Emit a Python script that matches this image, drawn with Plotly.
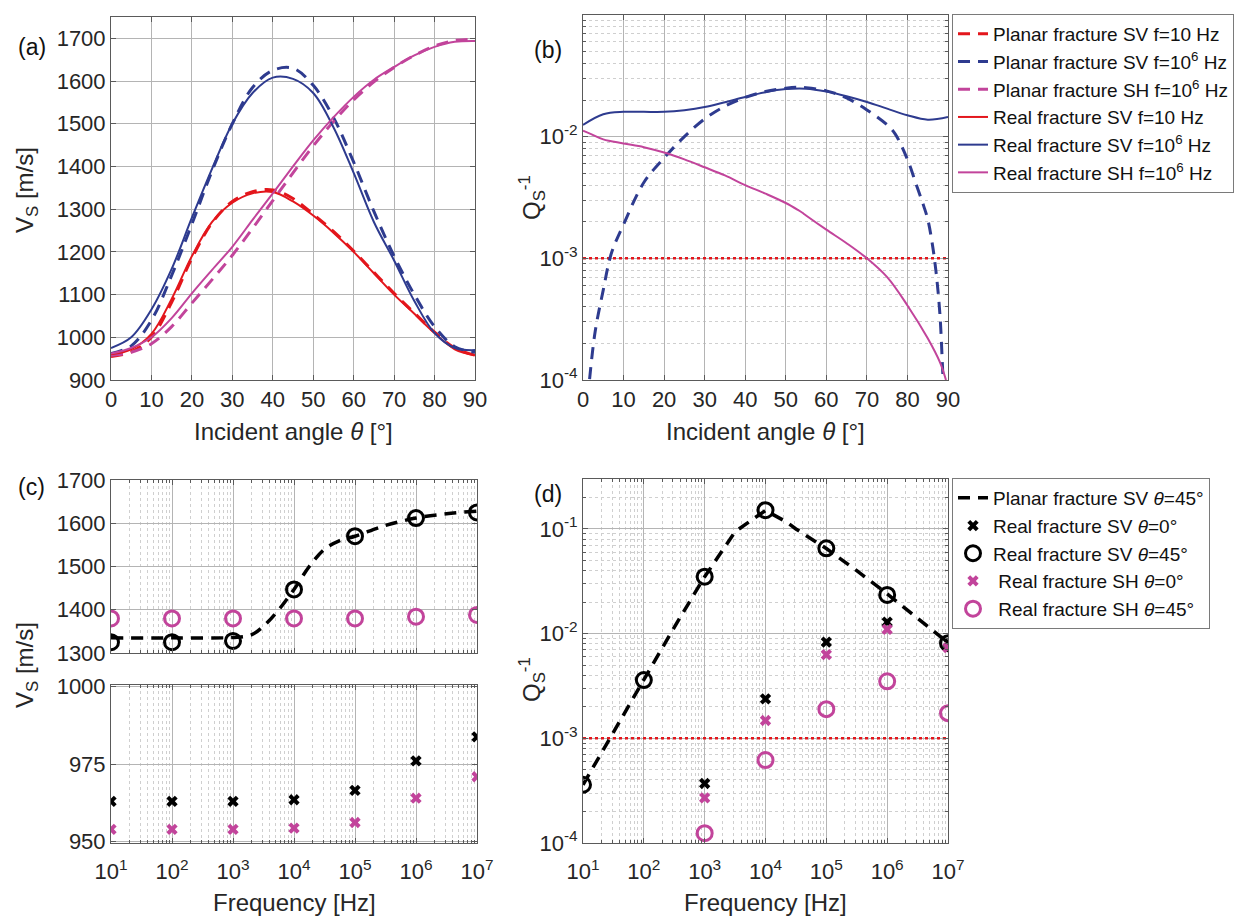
import numpy as np
import plotly.graph_objects as go

W, H = 1258, 917

# ---------------- data ----------------
# (a) shear velocity vs incidence angle
theta = [0, 5, 10, 15, 20, 25, 30, 35, 40, 45, 50, 55, 60, 65, 70, 75, 80, 85, 90]
vs_planar_sv_10 = [955, 966, 1000, 1082, 1185, 1268, 1318, 1341, 1345, 1325, 1288, 1248, 1202, 1152, 1103, 1057, 1012, 975, 958]
vs_planar_sv_1e6 = [962, 980, 1040, 1145, 1265, 1390, 1500, 1585, 1625, 1630, 1590, 1515, 1410, 1295, 1190, 1100, 1025, 978, 965]
vs_planar_sh_1e6 = [958, 965, 985, 1025, 1080, 1135, 1192, 1255, 1320, 1385, 1448, 1505, 1556, 1598, 1632, 1660, 1682, 1695, 1698]
vs_real_sv_10 = [960, 972, 1008, 1090, 1190, 1270, 1315, 1337, 1340, 1318, 1285, 1245, 1200, 1150, 1100, 1055, 1010, 972, 958]
vs_real_sv_1e6 = [975, 1000, 1065, 1160, 1280, 1395, 1500, 1572, 1608, 1605, 1572, 1492, 1385, 1270, 1180, 1085, 1010, 975, 970]
vs_real_sh_1e6 = [962, 975, 1000, 1045, 1103, 1158, 1212, 1275, 1337, 1400, 1461, 1515, 1563, 1603, 1633, 1660, 1680, 1692, 1694]

# (b) attenuation vs incidence angle
theta_q_planar = [1.2, 1.6, 3, 5, 7, 10, 15, 20, 25, 30, 35, 40, 45, 50, 53, 55, 60, 65, 70, 75, 77, 80, 82, 84, 85, 86, 87, 88, 88.8, 89.2]
q_planar_sv_1e6 = [7e-5, 1e-4, 2.5e-4, 5.5e-4, 1.1e-3, 1.9e-3, 4.2e-3, 6.7e-3, 1.0e-2, 0.0140, 0.0178, 0.0210, 0.0235, 0.0250, 0.0255, 0.0253, 0.0238, 0.0208, 0.0166, 0.0125, 0.0105, 6.5e-3, 4.2e-3, 2.7e-3, 2.1e-3, 1.4e-3, 8e-4, 3.5e-4, 1e-4, 6e-5]
theta_q_real = [0, 5, 10, 15, 20, 25, 30, 35, 40, 45, 50, 55, 60, 65, 70, 75, 80, 85, 90]
q_real_sv_1e6 = [0.0125, 0.0153, 0.0160, 0.0160, 0.0160, 0.0165, 0.0175, 0.0192, 0.0212, 0.0232, 0.0246, 0.0248, 0.0235, 0.0215, 0.0193, 0.0170, 0.0150, 0.0138, 0.0145]
theta_q_sh = [0, 2, 5, 10, 15, 20, 25, 30, 35, 40, 45, 50, 53, 54, 55, 60, 65, 70, 75, 80, 85, 88, 89.5]
q_real_sh_1e6 = [0.0112, 0.0105, 9.5e-3, 8.8e-3, 8.2e-3, 7.4e-3, 6.5e-3, 5.6e-3, 4.8e-3, 4.0e-3, 3.4e-3, 2.85e-3, 2.5e-3, 2.38e-3, 2.25e-3, 1.72e-3, 1.33e-3, 1.0e-3, 7e-4, 4.1e-4, 2.2e-4, 1.4e-4, 1e-4]
q_reference = 1e-3

# (c), (d) frequency dependence
freq = [1e1, 1e2, 1e3, 1e4, 1e5, 1e6, 1e7]
vs_sv45 = [1325, 1325, 1328, 1447, 1570, 1612, 1625]
vs_sh45 = [1380, 1380, 1380, 1380, 1380, 1384, 1388]
vs_sv0 = [963, 963, 963, 963.5, 966.5, 976, 983.7]
vs_sh0 = [954, 954, 954, 954.4, 956.2, 964, 970.9]

freq_line_log = [1, 2, 3, 3.3, 3.5, 3.75, 4, 4.25, 4.5, 4.75, 5, 5.5, 6, 6.5, 7]
vs_planar_sv45 = [1335, 1335, 1336, 1342, 1362, 1400, 1447, 1500, 1540, 1560, 1570, 1595, 1612, 1622, 1628]

freq_q_line_log = [1, 1.5, 2, 2.5, 3, 3.5, 3.8, 4, 4.34, 4.5, 5, 5.5, 6, 6.5, 7]
q_planar_sv45 = [3.6e-4, 1.15e-3, 3.6e-3, 1.15e-2, 0.035, 0.094, 0.125, 0.15, 0.117, 0.1, 0.065, 0.04, 0.024, 0.014, 0.0082]

freq_q_sv0 = [1e3, 1e4, 1e5, 1e6, 1e7]
q_sv0 = [3.7e-4, 2.38e-3, 8.3e-3, 0.0129, 8.2e-3]
q_sh0 = [2.7e-4, 1.48e-3, 6.3e-3, 0.011, 7.35e-3]
q_sv45 = [3.6e-4, 3.6e-3, 0.035, 0.151, 0.0653, 0.0234, 0.0081]
q_sh45 = [1.24e-4, 6.2e-4, 1.9e-3, 3.5e-3, 1.74e-3]

# ---------------- style ----------------
RED = "#e3161c"
BLUE = "#2e3b8f"
MAG = "#c2449b"
FONT = "Liberation Sans, Arial, sans-serif"
TXT = "#262626"
GRID = "#b4b4b4"
MINOR = "#cfcfcf"
AXLINE = "#5a5a5a"


def dx(a, b):
    return [a / W, b / W]


def dy(top, bottom):
    return [1 - bottom / H, 1 - top / H]


def sup(n):
    return "10<sup>%d</sup>" % n


def log_minor(lo, hi):
    vals = []
    for e in range(lo, hi):
        for k in range(2, 10):
            vals.append(k * 10.0 ** e)
    return vals


fig = go.Figure()

dash_planar = "12px,8px"

# ---- panel (a)
fig.add_trace(go.Scatter(x=theta, y=vs_planar_sv_10, mode="lines", line=dict(color=RED, width=3, dash=dash_planar, shape="spline"),
                         name="Planar fracture SV f=10 Hz", xaxis="x", yaxis="y", legend="legend"))
fig.add_trace(go.Scatter(x=theta, y=vs_planar_sv_1e6, mode="lines", line=dict(color=BLUE, width=3, dash=dash_planar, shape="spline"),
                         name="Planar fracture SV f=10<sup>6</sup> Hz", xaxis="x", yaxis="y", legend="legend"))
fig.add_trace(go.Scatter(x=theta, y=vs_planar_sh_1e6, mode="lines", line=dict(color=MAG, width=3, dash=dash_planar, shape="spline"),
                         name="Planar fracture SH f=10<sup>6</sup> Hz", xaxis="x", yaxis="y", legend="legend"))
fig.add_trace(go.Scatter(x=theta, y=vs_real_sv_10, mode="lines", line=dict(color=RED, width=2, shape="spline"),
                         name="Real fracture SV f=10 Hz", xaxis="x", yaxis="y", legend="legend"))
fig.add_trace(go.Scatter(x=theta, y=vs_real_sv_1e6, mode="lines", line=dict(color=BLUE, width=2, shape="spline"),
                         name="Real fracture SV f=10<sup>6</sup> Hz", xaxis="x", yaxis="y", legend="legend"))
fig.add_trace(go.Scatter(x=theta, y=vs_real_sh_1e6, mode="lines", line=dict(color=MAG, width=2, shape="spline"),
                         name="Real fracture SH f=10<sup>6</sup> Hz", xaxis="x", yaxis="y", legend="legend"))

# ---- panel (b)
fig.add_trace(go.Scatter(x=[0, 90], y=[q_reference, q_reference], mode="lines", line=dict(color=RED, width=2.5, dash="dot"),
                         showlegend=False, xaxis="x2", yaxis="y2"))
fig.add_trace(go.Scatter(x=theta_q_planar, y=q_planar_sv_1e6, mode="lines", line=dict(color=BLUE, width=3, dash=dash_planar, shape="spline"),
                         showlegend=False, xaxis="x2", yaxis="y2"))
fig.add_trace(go.Scatter(x=theta_q_real, y=q_real_sv_1e6, mode="lines", line=dict(color=BLUE, width=2, shape="spline"),
                         showlegend=False, xaxis="x2", yaxis="y2"))
fig.add_trace(go.Scatter(x=theta_q_sh, y=q_real_sh_1e6, mode="lines", line=dict(color=MAG, width=2, shape="spline"),
                         showlegend=False, xaxis="x2", yaxis="y2"))

# ---- panel (c) top
freq_line = [10.0 ** v for v in freq_line_log]
fig.add_trace(go.Scatter(x=freq_line, y=vs_planar_sv45, mode="lines", line=dict(color="black", width=3.5, dash=dash_planar, shape="spline"),
                         showlegend=False, xaxis="x3", yaxis="y3"))
fig.add_trace(go.Scatter(x=freq, y=vs_sv45, mode="markers", marker=dict(symbol="circle-open", size=15, color="black", line=dict(width=3)),
                         showlegend=False, xaxis="x3", yaxis="y3"))
fig.add_trace(go.Scatter(x=freq, y=vs_sh45, mode="markers", marker=dict(symbol="circle-open", size=15, color=MAG, line=dict(width=3)),
                         showlegend=False, xaxis="x3", yaxis="y3"))
# ---- panel (c) bottom
fig.add_trace(go.Scatter(x=freq, y=vs_sv0, mode="markers", marker=dict(symbol="x", size=10, color="black", line=dict(width=0)),
                         showlegend=False, xaxis="x4", yaxis="y4"))
fig.add_trace(go.Scatter(x=freq, y=vs_sh0, mode="markers", marker=dict(symbol="x", size=10, color=MAG, line=dict(width=0)),
                         showlegend=False, xaxis="x4", yaxis="y4"))

# ---- panel (d)
fig.add_trace(go.Scatter(x=[10, 1e7], y=[q_reference, q_reference], mode="lines", line=dict(color=RED, width=2.5, dash="dot"),
                         showlegend=False, xaxis="x5", yaxis="y5"))
freq_q_line = [10.0 ** v for v in freq_q_line_log]
fig.add_trace(go.Scatter(x=freq_q_line, y=q_planar_sv45, mode="lines", line=dict(color="black", width=3.5, dash=dash_planar),
                         name="Planar fracture SV <i>θ</i>=45°", xaxis="x5", yaxis="y5", legend="legend2"))
fig.add_trace(go.Scatter(x=freq_q_sv0, y=q_sv0, mode="markers", marker=dict(symbol="x", size=10, color="black", line=dict(width=0)),
                         name="Real fracture SV <i>θ</i>=0°", xaxis="x5", yaxis="y5", legend="legend2"))
fig.add_trace(go.Scatter(x=freq, y=q_sv45, mode="markers", marker=dict(symbol="circle-open", size=15, color="black", line=dict(width=3)),
                         name="Real fracture SV <i>θ</i>=45°", xaxis="x5", yaxis="y5", legend="legend2"))
fig.add_trace(go.Scatter(x=freq_q_sv0, y=q_sh0, mode="markers", marker=dict(symbol="x", size=10, color=MAG, line=dict(width=0)),
                         name="\u00a0Real fracture SH <i>θ</i>=0°", xaxis="x5", yaxis="y5", legend="legend2"))
fig.add_trace(go.Scatter(x=freq_q_sv0, y=q_sh45, mode="markers", marker=dict(symbol="circle-open", size=15, color=MAG, line=dict(width=3)),
                         name="\u00a0Real fracture SH <i>θ</i>=45°", xaxis="x5", yaxis="y5", legend="legend2"))

tickfont = dict(family=FONT, size=22, color=TXT)


def axis(domain, anchor, **kw):
    base = dict(domain=domain, anchor=anchor, showline=True, linecolor=AXLINE, linewidth=1, mirror="ticks",
                ticks="inside", ticklen=5, tickcolor=AXLINE, showgrid=True, gridcolor=GRID, gridwidth=1,
                zeroline=False, tickfont=tickfont, automargin=False)
    base.update(kw)
    return base


fmin = log_minor(1, 7)
qmin = log_minor(-4, 0)
minor_style = dict(showgrid=True, gridcolor=MINOR, griddash="dot", ticks="inside", ticklen=3, tickcolor=AXLINE)

decades_f = [1e1, 1e2, 1e3, 1e4, 1e5, 1e6, 1e7]
decades_f_text = [sup(n) for n in range(1, 8)]
decades_q = [1e-4, 1e-3, 1e-2, 1e-1]
decades_q_text = [sup(n) for n in range(-4, 0)]

legend_font = dict(family=FONT, size=19, color="#111")

fig.update_layout(
    template="none",
    width=W, height=H,
    margin=dict(l=0, r=0, t=0, b=0, autoexpand=False),
    paper_bgcolor="white", plot_bgcolor="white",
    font=dict(family=FONT, color=TXT),
    # (a)
    xaxis=axis(dx(111, 475), "y", range=[0, 90], tickvals=list(range(0, 91, 10))),
    yaxis=axis(dy(17, 380), "x", range=[900, 1750], tickvals=list(range(900, 1701, 100))),
    # (b)
    xaxis2=axis(dx(583, 948), "y2", range=[0, 90], tickvals=list(range(0, 91, 10))),
    yaxis2=axis(dy(15, 380), "x2", type="log", range=[-4, -1], tickvals=decades_q, ticktext=decades_q_text,
                minor=dict(tickvals=qmin, **minor_style)),
    # (c) top
    xaxis3=axis(dx(111, 477), "y3", type="log", range=[1, 7], tickvals=decades_f, showticklabels=False,
                minor=dict(tickvals=fmin, **minor_style)),
    yaxis3=axis(dy(480, 653), "x3", range=[1300, 1700], tickvals=list(range(1300, 1701, 100))),
    # (c) bottom
    xaxis4=axis(dx(111, 477), "y4", type="log", range=[1, 7], tickvals=decades_f, ticktext=decades_f_text,
                ticklabelstandoff=9, minor=dict(tickvals=fmin, **minor_style)),
    yaxis4=axis(dy(685, 843), "x4", range=[949.6, 1000.4], tickvals=[950, 975, 1000]),
    # (d)
    xaxis5=axis(dx(583, 948), "y5", type="log", range=[1, 7], tickvals=decades_f, ticktext=decades_f_text,
                ticklabelstandoff=9, minor=dict(tickvals=fmin, **minor_style)),
    yaxis5=axis(dy(479, 843), "x5", type="log", range=[-4, np.log10(0.3)], tickvals=decades_q, ticktext=decades_q_text,
                minor=dict(tickvals=qmin, **minor_style)),
    legend=dict(x=952 / W, y=1 - 14 / H, xanchor="left", yanchor="top", bgcolor="white",
                bordercolor="#7a7a7a", borderwidth=1, font=legend_font, tracegroupgap=0, itemwidth=30),
    legend2=dict(x=952 / W, y=1 - 478 / H, xanchor="left", yanchor="top", bgcolor="white",
                 bordercolor="#7a7a7a", borderwidth=1, font=legend_font, tracegroupgap=0, itemwidth=30),
    showlegend=True,
)

ann = []
lab = dict(family=FONT, size=23, color="#111")
for text, x, y in [("(a)", 32, 47), ("(b)", 548, 50), ("(c)", 31, 487), ("(d)", 548, 494)]:
    ann.append(dict(text=text, x=x / W, y=1 - y / H, xref="paper", yref="paper", showarrow=False, font=lab,
                    xanchor="center", yanchor="middle"))
title_font = dict(family=FONT, size=24, color=TXT)
for text, x, y in [("Incident angle <i>θ</i> [°]", 293, 432), ("Incident angle <i>θ</i> [°]", 765, 432),
                   ("Frequency [Hz]", 294, 902), ("Frequency [Hz]", 765, 902)]:
    ann.append(dict(text=text, x=x / W, y=1 - y / H, xref="paper", yref="paper", showarrow=False, font=title_font,
                    xanchor="center", yanchor="middle"))
for text, x, y in [("V<sub>S</sub> [m/s]", 26, 190), ("Q<sub>S</sub><sup>-1</sup>", 532, 198),
                   ("V<sub>S</sub> [m/s]", 26, 665), ("Q<sub>S</sub><sup>-1</sup>", 532, 680)]:
    ann.append(dict(text=text, x=x / W, y=1 - y / H, xref="paper", yref="paper", showarrow=False, font=title_font,
                    xanchor="center", yanchor="middle", textangle=-90))
fig.update_layout(annotations=ann)

fig.write_html("out.html")
